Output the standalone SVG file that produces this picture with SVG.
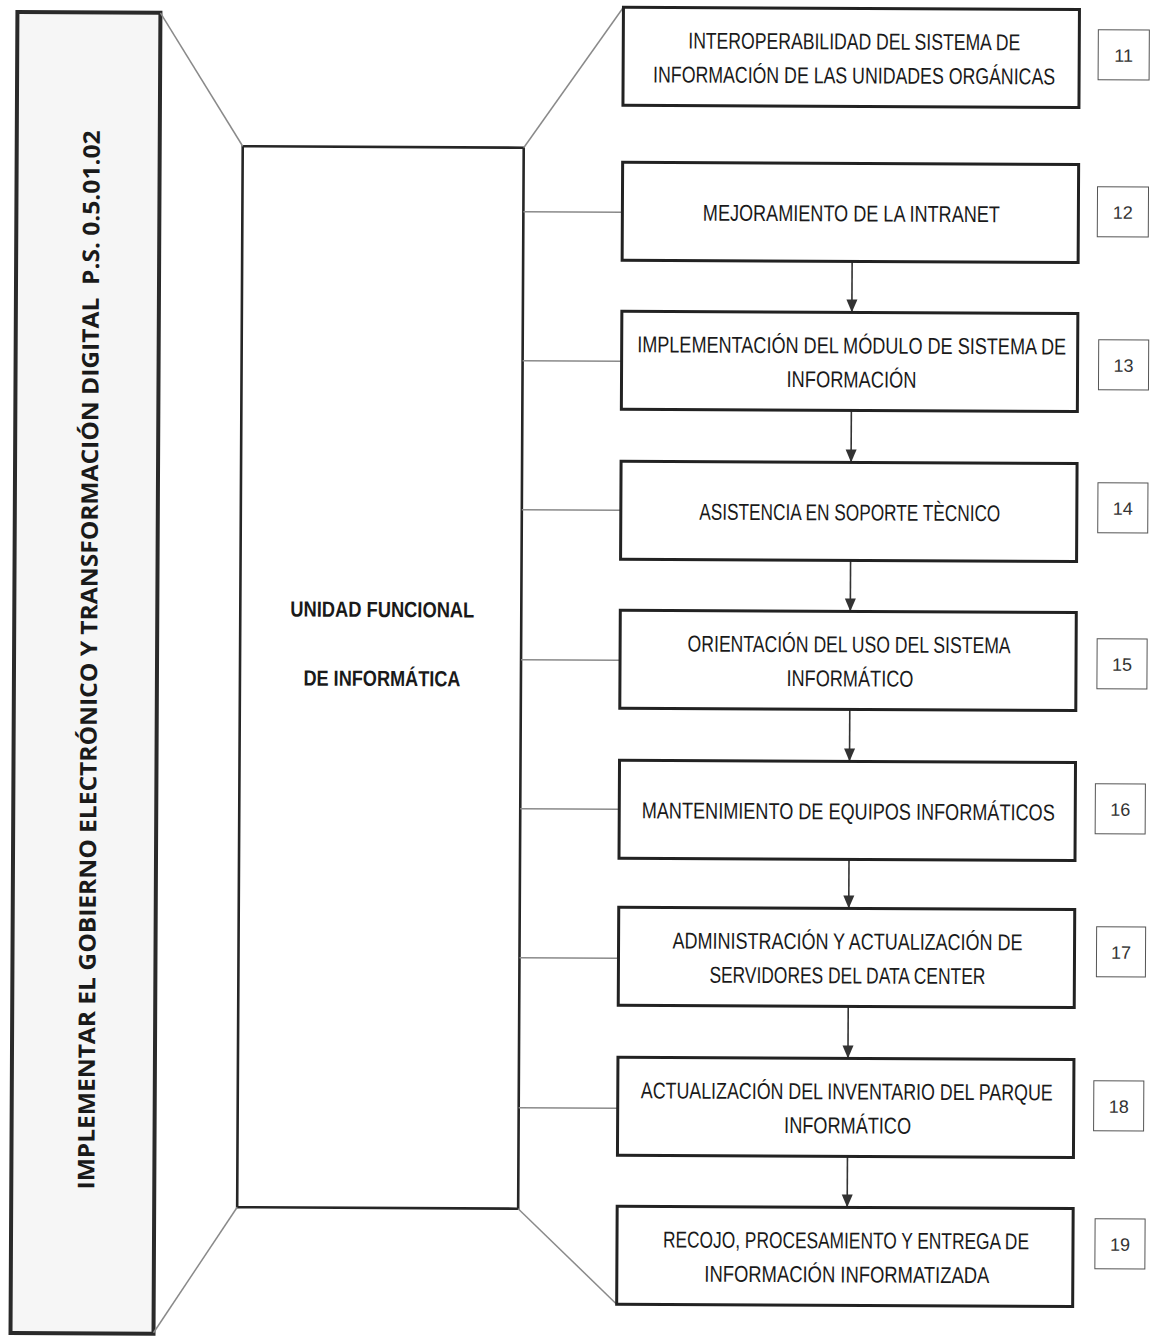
<svg xmlns="http://www.w3.org/2000/svg" width="1156" height="1336" viewBox="0 0 1156 1336">
  <style>
    .bar { fill: #f6f6f6; stroke: #2a2a2a; stroke-width: 4; }
    .unit { fill: #ffffff; stroke: #262626; stroke-width: 2.6; }
    .box { fill: #ffffff; stroke: #222222; stroke-width: 3; }
    .num { fill: #ffffff; stroke: #555555; stroke-width: 1; }
    .lbl { font-family: "Liberation Sans", Arial, sans-serif; font-size: 23px; fill: #1a1a1a; text-anchor: middle; }
    .numt { font-family: "Liberation Sans", Arial, sans-serif; font-size: 18px; fill: #333333; text-anchor: middle; }
    .unitt { font-family: "Liberation Sans", Arial, sans-serif; font-size: 22px; font-weight: bold; fill: #1a1a1a; text-anchor: middle; }
    .bart { font-family: "Open Sans", "Liberation Sans", Arial, sans-serif; font-size: 23px; font-weight: bold; fill: #1a1a1a; }
    .link { stroke: #8a8a8a; stroke-width: 1.5; fill: none; }
    .flow { stroke: #333333; stroke-width: 1.6; fill: none; }
  </style>
  <defs>
    <marker id="arrow" viewBox="0 0 13 12" refX="13" refY="6" markerWidth="13" markerHeight="12" markerUnits="userSpaceOnUse" orient="auto">
      <path d="M0,0.5 L13,6 L0,11.5 z" fill="#333333"/>
    </marker>
  </defs>
  <rect width="1156" height="1336" fill="#ffffff"/>
  <g transform="rotate(0.3 578 668)">
    <!-- strategic objective bar -->
    <g id="objetivo">
      <rect class="bar" x="14" y="15" width="143" height="1321"/>
      <text class="bart" xml:space="preserve" transform="translate(97 1192) rotate(-90)" x="0" y="0" textLength="1059" lengthAdjust="spacingAndGlyphs">IMPLEMENTAR EL GOBIERNO ELECTRÓNICO Y TRANSFORMACIÓN DIGITAL  P.S. 0.5.01.02</text>
    </g>
    <!-- responsible unit -->
    <g id="unidad">
      <rect class="unit" x="240" y="148" width="281" height="1061"/>
      <text class="unitt" transform="translate(382 618) scale(0.83 1)" textLength="221.7" lengthAdjust="spacingAndGlyphs">UNIDAD FUNCIONAL</text>
      <text class="unitt" transform="translate(382 687) scale(0.83 1)" textLength="189.2" lengthAdjust="spacingAndGlyphs">DE INFORMÁTICA</text>
    </g>
    <!-- connectors -->
    <g id="conectores">
      <line class="link" x1="157" y1="15" x2="240" y2="148"/>
      <line class="link" x1="157" y1="1335" x2="240" y2="1209"/>
      <line class="link" x1="521" y1="148" x2="620" y2="7"/>
      <line class="link" x1="521" y1="1209" x2="620" y2="1304"/>
      <line class="link" x1="521" y1="212" x2="620" y2="212"/>
      <line class="link" x1="521" y1="361" x2="620" y2="361"/>
      <line class="link" x1="521" y1="510" x2="620" y2="510"/>
      <line class="link" x1="521" y1="660" x2="620" y2="660"/>
      <line class="link" x1="521" y1="809" x2="620" y2="809"/>
      <line class="link" x1="521" y1="958" x2="620" y2="958"/>
      <line class="link" x1="521" y1="1108" x2="620" y2="1108"/>
      <line class="flow" x1="850" y1="260" x2="850" y2="311" marker-end="url(#arrow)"/>
      <line class="flow" x1="850" y1="409" x2="850" y2="461" marker-end="url(#arrow)"/>
      <line class="flow" x1="850" y1="559" x2="850" y2="610" marker-end="url(#arrow)"/>
      <line class="flow" x1="850" y1="708" x2="850" y2="760" marker-end="url(#arrow)"/>
      <line class="flow" x1="850" y1="858" x2="850" y2="907" marker-end="url(#arrow)"/>
      <line class="flow" x1="850" y1="1005" x2="850" y2="1057" marker-end="url(#arrow)"/>
      <line class="flow" x1="850" y1="1155" x2="850" y2="1206" marker-end="url(#arrow)"/>
    </g>
    <!-- activities -->
    <g id="act11">
      <rect class="box" x="620" y="7" width="456" height="98"/>
      <text class="lbl" transform="translate(851 48) scale(0.78 1)" textLength="425.6" lengthAdjust="spacingAndGlyphs">INTEROPERABILIDAD DEL SISTEMA DE</text>
      <text class="lbl" transform="translate(851 82) scale(0.78 1)" textLength="515.4" lengthAdjust="spacingAndGlyphs">INFORMACIÓN DE LAS UNIDADES ORGÁNICAS</text>
      <rect class="num" x="1095" y="27" width="51" height="50"/>
      <text class="numt" x="1120.5" y="59">11</text>
    </g>
    <g id="act12">
      <rect class="box" x="620" y="162" width="456" height="98"/>
      <text class="lbl" transform="translate(849 220) scale(0.78 1)" textLength="380.8" lengthAdjust="spacingAndGlyphs">MEJORAMIENTO DE LA INTRANET</text>
      <rect class="num" x="1095" y="184" width="51" height="50"/>
      <text class="numt" x="1120.5" y="216">12</text>
    </g>
    <g id="act13">
      <rect class="box" x="620" y="311" width="456" height="98"/>
      <text class="lbl" transform="translate(850 352) scale(0.78 1)" textLength="550" lengthAdjust="spacingAndGlyphs">IMPLEMENTACIÓN DEL MÓDULO DE SISTEMA DE</text>
      <text class="lbl" transform="translate(850 386) scale(0.78 1)" textLength="166.7" lengthAdjust="spacingAndGlyphs">INFORMACIÓN</text>
      <rect class="num" x="1097" y="337" width="50" height="50"/>
      <text class="numt" x="1122" y="369">13</text>
    </g>
    <g id="act14">
      <rect class="box" x="620" y="461" width="456" height="98"/>
      <text class="lbl" transform="translate(849 519) scale(0.78 1)" textLength="385.9" lengthAdjust="spacingAndGlyphs">ASISTENCIA EN SOPORTE TÈCNICO</text>
      <rect class="num" x="1097" y="480" width="50" height="50"/>
      <text class="numt" x="1122" y="512">14</text>
    </g>
    <g id="act15">
      <rect class="box" x="620" y="610" width="456" height="98"/>
      <text class="lbl" transform="translate(849 651) scale(0.78 1)" textLength="414.1" lengthAdjust="spacingAndGlyphs">ORIENTACIÓN DEL USO DEL SISTEMA</text>
      <text class="lbl" transform="translate(850 685) scale(0.78 1)" textLength="162.8" lengthAdjust="spacingAndGlyphs">INFORMÁTICO</text>
      <rect class="num" x="1097" y="636" width="50" height="50"/>
      <text class="numt" x="1122" y="668">15</text>
    </g>
    <g id="act16">
      <rect class="box" x="620" y="760" width="456" height="98"/>
      <text class="lbl" transform="translate(849 818) scale(0.78 1)" textLength="529.5" lengthAdjust="spacingAndGlyphs">MANTENIMIENTO DE EQUIPOS INFORMÁTICOS</text>
      <rect class="num" x="1096" y="781" width="50" height="50"/>
      <text class="numt" x="1121" y="813">16</text>
    </g>
    <g id="act17">
      <rect class="box" x="620" y="907" width="456" height="98"/>
      <text class="lbl" transform="translate(849 948) scale(0.78 1)" textLength="448.7" lengthAdjust="spacingAndGlyphs">ADMINISTRACIÓN Y ACTUALIZACIÓN DE</text>
      <text class="lbl" transform="translate(849 982) scale(0.78 1)" textLength="353.8" lengthAdjust="spacingAndGlyphs">SERVIDORES DEL DATA CENTER</text>
      <rect class="num" x="1098" y="924" width="49" height="50"/>
      <text class="numt" x="1122.5" y="956">17</text>
    </g>
    <g id="act18">
      <rect class="box" x="620" y="1057" width="456" height="98"/>
      <text class="lbl" transform="translate(849 1098) scale(0.78 1)" textLength="528.2" lengthAdjust="spacingAndGlyphs">ACTUALIZACIÓN DEL INVENTARIO DEL PARQUE</text>
      <text class="lbl" transform="translate(850 1132) scale(0.78 1)" textLength="162.8" lengthAdjust="spacingAndGlyphs">INFORMÁTICO</text>
      <rect class="num" x="1096" y="1078" width="50" height="50"/>
      <text class="numt" x="1121" y="1110">18</text>
    </g>
    <g id="act19">
      <rect class="box" x="620" y="1206" width="456" height="98"/>
      <text class="lbl" transform="translate(849 1247) scale(0.78 1)" textLength="469.2" lengthAdjust="spacingAndGlyphs">RECOJO, PROCESAMIENTO Y ENTREGA DE</text>
      <text class="lbl" transform="translate(850 1281) scale(0.78 1)" textLength="365.4" lengthAdjust="spacingAndGlyphs">INFORMACIÓN INFORMATIZADA</text>
      <rect class="num" x="1098" y="1216" width="50" height="50"/>
      <text class="numt" x="1123" y="1248">19</text>
    </g>
  </g>
</svg>
